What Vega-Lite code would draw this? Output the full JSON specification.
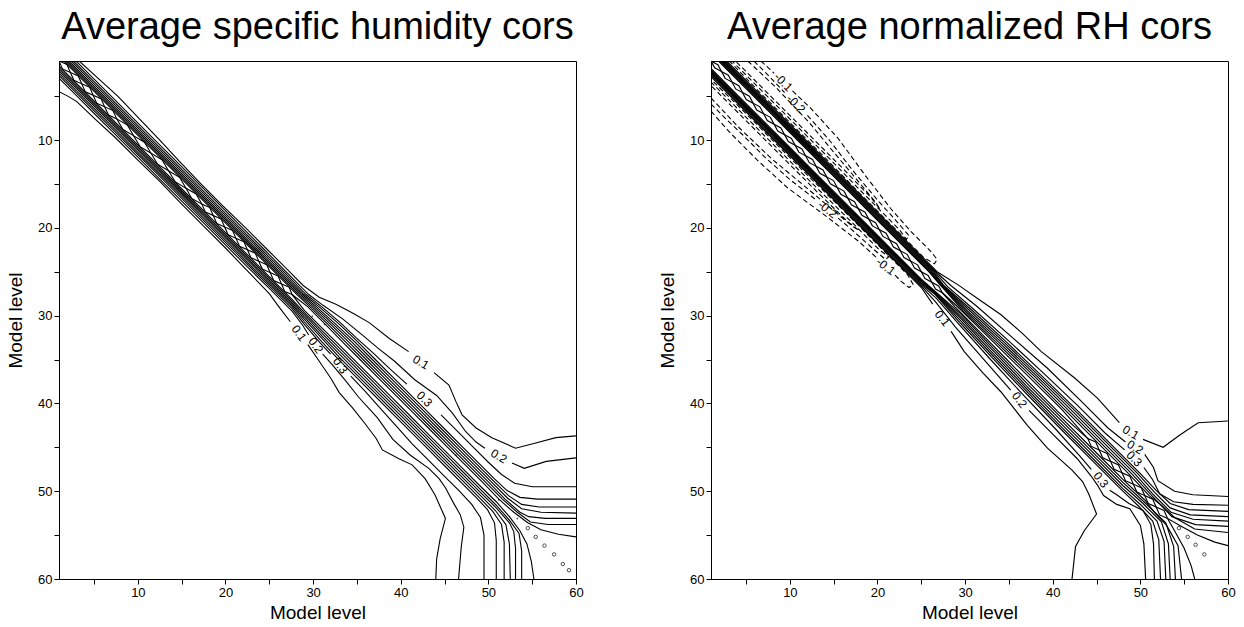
{
"$schema":"https://vega.github.io/schema/vega-lite/v6.json",
"background":"white",
"padding":{"left":6,"top":8,"right":5,"bottom":5},
"spacing":74,
"config":{
 "view":{"stroke":"black","strokeWidth":1},
 "font":"Liberation Sans",
 "title":{"fontSize":38,"fontWeight":"normal","font":"Liberation Sans","color":"black","frame":"group","anchor":"middle","offset":14},
 "axis":{"grid":false,"domainColor":"black","tickColor":"black","labelColor":"black","titleColor":"black","labelFont":"Liberation Sans","titleFont":"Liberation Sans","labelFontSize":13,"titleFontSize":19,"titleFontWeight":"normal","tickSize":5,"labelPadding":2,"domainWidth":1,"tickWidth":1},
 "axisX":{"titlePadding":4},
 "axisY":{"titlePadding":12}
},
"datasets":{
"lineL":[
{"c":"U1a","x":3.3,"y":1},{"c":"U1a","x":5.5,"y":3},{"c":"U1a","x":7.7,"y":5},{"c":"U1a","x":10.1,"y":7.5},{"c":"U1a","x":12.5,"y":10},{"c":"U1a","x":14.8,"y":12.5},{"c":"U1a","x":17.2,"y":15},{"c":"U1a","x":19.7,"y":17.5},{"c":"U1a","x":22.3,"y":20},{"c":"U1a","x":24.8,"y":22.5},{"c":"U1a","x":27.3,"y":25},{"c":"U1a","x":28.9,"y":26.6},{"c":"U1a","x":30.7,"y":27.9},{"c":"U1a","x":32.6,"y":28.7},{"c":"U1a","x":34.5,"y":29.7},{"c":"U1a","x":36.4,"y":30.8},{"c":"U1a","x":38.7,"y":32.6},{"c":"U1a","x":40.9,"y":34.1},
{"c":"U1b","x":43.8,"y":36.5},{"c":"U1b","x":45.5,"y":37.9},{"c":"U1b","x":46.3,"y":39.8},{"c":"U1b","x":47,"y":41.3},{"c":"U1b","x":48.6,"y":42.8},{"c":"U1b","x":50.4,"y":43.9},{"c":"U1b","x":53.1,"y":45.1},{"c":"U1b","x":55.4,"y":44.5},{"c":"U1b","x":57.7,"y":43.9},{"c":"U1b","x":60,"y":43.7},
{"c":"U2a","x":2.95,"y":1},{"c":"U2a","x":4.95,"y":3},{"c":"U2a","x":6.95,"y":5},{"c":"U2a","x":9.45,"y":7.5},{"c":"U2a","x":11.95,"y":10},{"c":"U2a","x":14.45,"y":12.5},{"c":"U2a","x":16.95,"y":15},{"c":"U2a","x":19.45,"y":17.5},{"c":"U2a","x":21.95,"y":20},{"c":"U2a","x":24.45,"y":22.5},{"c":"U2a","x":26.9,"y":25},{"c":"U2a","x":29.5,"y":27.6},{"c":"U2a","x":31.1,"y":28.8},{"c":"U2a","x":33.4,"y":30.4},{"c":"U2a","x":35.6,"y":32.2},{"c":"U2a","x":37.4,"y":33.7},{"c":"U2a","x":39.3,"y":35.2},{"c":"U2a","x":41.6,"y":37.3},{"c":"U2a","x":44.1,"y":39.1},{"c":"U2a","x":45.9,"y":41.1},{"c":"U2a","x":47.4,"y":43.2},{"c":"U2a","x":48.6,"y":44.4},{"c":"U2a","x":49.6,"y":45.1},
{"c":"U2b","x":52.7,"y":46.8},{"c":"U2b","x":54.1,"y":47.4},{"c":"U2b","x":56.6,"y":46.6},{"c":"U2b","x":60,"y":46.2},
{"c":"U3a","x":2.65,"y":1},{"c":"U3a","x":4.65,"y":3},{"c":"U3a","x":6.65,"y":5},{"c":"U3a","x":9.15,"y":7.5},{"c":"U3a","x":11.65,"y":10},{"c":"U3a","x":14.15,"y":12.5},{"c":"U3a","x":16.65,"y":15},{"c":"U3a","x":19.15,"y":17.5},{"c":"U3a","x":21.65,"y":20},{"c":"U3a","x":24.15,"y":22.5},{"c":"U3a","x":26.65,"y":25},{"c":"U3a","x":29.2,"y":27.6},{"c":"U3a","x":31,"y":29},{"c":"U3a","x":33.1,"y":30.8},{"c":"U3a","x":34.9,"y":32.5},{"c":"U3a","x":36.9,"y":34.3},{"c":"U3a","x":38.7,"y":36},{"c":"U3a","x":40.7,"y":37.8},
{"c":"U3b","x":44.6,"y":41.3},{"c":"U3b","x":46.4,"y":43.1},{"c":"U3b","x":48.3,"y":45},{"c":"U3b","x":50,"y":46.7},{"c":"U3b","x":51.5,"y":48.1},{"c":"U3b","x":53,"y":49.1},{"c":"U3b","x":55,"y":49.5},{"c":"U3b","x":60,"y":49.5},
{"c":"U4","x":2.4,"y":1},{"c":"U4","x":4.4,"y":3},{"c":"U4","x":6.4,"y":5},{"c":"U4","x":8.9,"y":7.5},{"c":"U4","x":11.4,"y":10},{"c":"U4","x":13.9,"y":12.5},{"c":"U4","x":16.4,"y":15},{"c":"U4","x":18.9,"y":17.5},{"c":"U4","x":21.4,"y":20},{"c":"U4","x":23.9,"y":22.5},{"c":"U4","x":26.4,"y":25},{"c":"U4","x":28.95,"y":27.6},{"c":"U4","x":30.7,"y":29},{"c":"U4","x":33,"y":31},{"c":"U4","x":35.1,"y":33},{"c":"U4","x":37.1,"y":35},{"c":"U4","x":39.1,"y":37},{"c":"U4","x":41.1,"y":39},{"c":"U4","x":43.1,"y":41},{"c":"U4","x":45.1,"y":43},{"c":"U4","x":47.1,"y":45},{"c":"U4","x":49.1,"y":47},{"c":"U4","x":50.7,"y":48.6},{"c":"U4","x":52.1,"y":49.9},{"c":"U4","x":53.6,"y":50.7},{"c":"U4","x":55.6,"y":50.9},{"c":"U4","x":60,"y":50.9},
{"c":"U5","x":2.15,"y":1},{"c":"U5","x":4.15,"y":3},{"c":"U5","x":6.15,"y":5},{"c":"U5","x":8.65,"y":7.5},{"c":"U5","x":11.15,"y":10},{"c":"U5","x":13.65,"y":12.5},{"c":"U5","x":16.15,"y":15},{"c":"U5","x":18.65,"y":17.5},{"c":"U5","x":21.15,"y":20},{"c":"U5","x":23.65,"y":22.5},{"c":"U5","x":26.15,"y":25},{"c":"U5","x":28.75,"y":27.6},{"c":"U5","x":30.4,"y":29},{"c":"U5","x":32.6,"y":31},{"c":"U5","x":34.75,"y":33},{"c":"U5","x":36.75,"y":35},{"c":"U5","x":38.75,"y":37},{"c":"U5","x":40.75,"y":39},{"c":"U5","x":42.75,"y":41},{"c":"U5","x":44.75,"y":43},{"c":"U5","x":46.75,"y":45},{"c":"U5","x":48.75,"y":47},{"c":"U5","x":50.75,"y":49},{"c":"U5","x":52.3,"y":50.5},{"c":"U5","x":53.8,"y":51.5},{"c":"U5","x":55.8,"y":51.8},{"c":"U5","x":60,"y":51.8},
{"c":"U6","x":1.95,"y":1},{"c":"U6","x":3.95,"y":3},{"c":"U6","x":5.95,"y":5},{"c":"U6","x":8.45,"y":7.5},{"c":"U6","x":10.95,"y":10},{"c":"U6","x":13.45,"y":12.5},{"c":"U6","x":15.95,"y":15},{"c":"U6","x":18.45,"y":17.5},{"c":"U6","x":20.95,"y":20},{"c":"U6","x":23.45,"y":22.5},{"c":"U6","x":25.95,"y":25},{"c":"U6","x":28.55,"y":27.6},{"c":"U6","x":30.15,"y":29},{"c":"U6","x":32.3,"y":31},{"c":"U6","x":34.4,"y":33},{"c":"U6","x":36.4,"y":35},{"c":"U6","x":38.4,"y":37},{"c":"U6","x":40.4,"y":39},{"c":"U6","x":42.4,"y":41},{"c":"U6","x":44.4,"y":43},{"c":"U6","x":46.4,"y":45},{"c":"U6","x":48.4,"y":47},{"c":"U6","x":50.4,"y":49},{"c":"U6","x":52.2,"y":50.8},{"c":"U6","x":53.8,"y":52},{"c":"U6","x":56,"y":52.4},{"c":"U6","x":60,"y":52.5},
{"c":"U7","x":1.75,"y":1},{"c":"U7","x":3.75,"y":3},{"c":"U7","x":5.75,"y":5},{"c":"U7","x":8.25,"y":7.5},{"c":"U7","x":10.75,"y":10},{"c":"U7","x":13.25,"y":12.5},{"c":"U7","x":15.75,"y":15},{"c":"U7","x":18.25,"y":17.5},{"c":"U7","x":20.75,"y":20},{"c":"U7","x":23.25,"y":22.5},{"c":"U7","x":25.75,"y":25},{"c":"U7","x":28.35,"y":27.6},{"c":"U7","x":29.9,"y":29},{"c":"U7","x":32,"y":31},{"c":"U7","x":34.05,"y":33},{"c":"U7","x":36.05,"y":35},{"c":"U7","x":38.05,"y":37},{"c":"U7","x":40.05,"y":39},{"c":"U7","x":42.05,"y":41},{"c":"U7","x":44.05,"y":43},{"c":"U7","x":46.05,"y":45},{"c":"U7","x":48.05,"y":47},{"c":"U7","x":50.05,"y":49},{"c":"U7","x":51.9,"y":50.9},{"c":"U7","x":53.6,"y":52.4},{"c":"U7","x":54.6,"y":52.9},{"c":"U7","x":56.5,"y":53.1},{"c":"U7","x":60,"y":53.1},
{"c":"U8","x":1.55,"y":1},{"c":"U8","x":3.55,"y":3},{"c":"U8","x":5.55,"y":5},{"c":"U8","x":8.05,"y":7.5},{"c":"U8","x":10.55,"y":10},{"c":"U8","x":13.05,"y":12.5},{"c":"U8","x":15.55,"y":15},{"c":"U8","x":18.05,"y":17.5},{"c":"U8","x":20.55,"y":20},{"c":"U8","x":23.05,"y":22.5},{"c":"U8","x":25.55,"y":25},{"c":"U8","x":28.15,"y":27.6},{"c":"U8","x":29.65,"y":29},{"c":"U8","x":31.7,"y":31},{"c":"U8","x":33.7,"y":33},{"c":"U8","x":35.7,"y":35},{"c":"U8","x":37.7,"y":37},{"c":"U8","x":39.7,"y":39},{"c":"U8","x":41.7,"y":41},{"c":"U8","x":43.7,"y":43},{"c":"U8","x":45.7,"y":45},{"c":"U8","x":47.7,"y":47},{"c":"U8","x":49.7,"y":49},{"c":"U8","x":51.6,"y":50.9},{"c":"U8","x":53.3,"y":52.4},{"c":"U8","x":54.8,"y":53.5},{"c":"U8","x":56.8,"y":53.8},{"c":"U8","x":60,"y":53.8},
{"c":"U9","x":1,"y":1},{"c":"U9","x":1.9,"y":1.4},{"c":"U9","x":2.3,"y":2.3},{"c":"U9","x":3.2,"y":2.7},{"c":"U9","x":3.6,"y":3.6},{"c":"U9","x":4.5,"y":4.0},{"c":"U9","x":4.9,"y":4.9},{"c":"U9","x":5.8,"y":5.3},{"c":"U9","x":6.2,"y":6.2},{"c":"U9","x":7.15,"y":6.65},{"c":"U9","x":7.6,"y":7.6},{"c":"U9","x":8.8,"y":8.3},{"c":"U9","x":9.5,"y":9.5},{"c":"U9","x":10.75,"y":10.25},{"c":"U9","x":11.5,"y":11.5},{"c":"U9","x":12.75,"y":12.25},{"c":"U9","x":13.5,"y":13.5},{"c":"U9","x":14.75,"y":14.25},{"c":"U9","x":15.5,"y":15.5},{"c":"U9","x":16.65,"y":16.15},{"c":"U9","x":17.3,"y":17.3},{"c":"U9","x":18.2,"y":17.7},{"c":"U9","x":18.6,"y":18.6},{"c":"U9","x":19.5,"y":19.0},{"c":"U9","x":19.9,"y":19.9},{"c":"U9","x":20.8,"y":20.3},{"c":"U9","x":21.2,"y":21.2},{"c":"U9","x":22.1,"y":21.6},{"c":"U9","x":22.5,"y":22.5},{"c":"U9","x":23.4,"y":22.9},{"c":"U9","x":23.8,"y":23.8},{"c":"U9","x":24.7,"y":24.2},{"c":"U9","x":25.1,"y":25.1},{"c":"U9","x":26.0,"y":25.5},{"c":"U9","x":26.4,"y":26.4},{"c":"U9","x":27.25,"y":26.75},{"c":"U9","x":27.6,"y":27.6},{"c":"U9","x":29.4,"y":29},{"c":"U9","x":31.4,"y":31},{"c":"U9","x":33.35,"y":33},{"c":"U9","x":35.35,"y":35},{"c":"U9","x":37.35,"y":37},{"c":"U9","x":39.35,"y":39},{"c":"U9","x":41.35,"y":41},{"c":"U9","x":43.35,"y":43},{"c":"U9","x":45.35,"y":45},{"c":"U9","x":47.35,"y":47},{"c":"U9","x":49.35,"y":49},{"c":"U9","x":51.2,"y":50.9},{"c":"U9","x":52.9,"y":52.4},{"c":"U9","x":54.5,"y":53.6},{"c":"U9","x":56,"y":54.4},{"c":"U9","x":58,"y":54.9},{"c":"U9","x":60,"y":55.2},
{"c":"L1a","x":1,"y":4.5},{"c":"L1a","x":2,"y":5.0},{"c":"L1a","x":3,"y":5.6},{"c":"L1a","x":5,"y":7.5},{"c":"L1a","x":7.5,"y":9.8},{"c":"L1a","x":10,"y":12.3},{"c":"L1a","x":12.5,"y":14.7},{"c":"L1a","x":15,"y":17.3},{"c":"L1a","x":17.5,"y":19.8},{"c":"L1a","x":20,"y":22.3},{"c":"L1a","x":22.5,"y":24.9},{"c":"L1a","x":25,"y":27.5},{"c":"L1a","x":26.1,"y":29.0},{"c":"L1a","x":27.4,"y":30.7},
{"c":"L1b","x":29.4,"y":33.3},{"c":"L1b","x":30.7,"y":35.2},{"c":"L1b","x":32,"y":37.1},{"c":"L1b","x":33,"y":38.8},{"c":"L1b","x":34.5,"y":40.5},{"c":"L1b","x":36,"y":42.4},{"c":"L1b","x":37.2,"y":44.0},{"c":"L1b","x":37.9,"y":45.3},{"c":"L1b","x":39.8,"y":46.3},{"c":"L1b","x":41.3,"y":47.0},{"c":"L1b","x":42.8,"y":48.6},{"c":"L1b","x":43.9,"y":50.4},{"c":"L1b","x":45.1,"y":53.1},{"c":"L1b","x":44.5,"y":55.4},{"c":"L1b","x":44.1,"y":57.7},{"c":"L1b","x":44,"y":60},
{"c":"L2a","x":1,"y":2.95},{"c":"L2a","x":3,"y":4.95},{"c":"L2a","x":5,"y":6.95},{"c":"L2a","x":7.5,"y":9.45},{"c":"L2a","x":10,"y":11.95},{"c":"L2a","x":12.5,"y":14.45},{"c":"L2a","x":15,"y":16.95},{"c":"L2a","x":17.5,"y":19.45},{"c":"L2a","x":20,"y":21.95},{"c":"L2a","x":22.5,"y":24.45},{"c":"L2a","x":25,"y":26.9},{"c":"L2a","x":27.6,"y":29.5},{"c":"L2a","x":28.8,"y":31.1},{"c":"L2a","x":29.5,"y":32.2},
{"c":"L2b","x":31.1,"y":34.4},{"c":"L2b","x":32.2,"y":35.6},{"c":"L2b","x":33.7,"y":37.4},{"c":"L2b","x":35.2,"y":39.3},{"c":"L2b","x":37.3,"y":41.6},{"c":"L2b","x":39.1,"y":44.1},{"c":"L2b","x":41.1,"y":45.9},{"c":"L2b","x":43.2,"y":47.4},{"c":"L2b","x":44.4,"y":48.6},{"c":"L2b","x":45.1,"y":49.6},{"c":"L2b","x":46,"y":51.3},{"c":"L2b","x":46.8,"y":52.7},{"c":"L2b","x":47.2,"y":54.1},{"c":"L2b","x":46.9,"y":56.4},{"c":"L2b","x":46.6,"y":60},
{"c":"L3a","x":1,"y":2.65},{"c":"L3a","x":3,"y":4.65},{"c":"L3a","x":5,"y":6.65},{"c":"L3a","x":7.5,"y":9.15},{"c":"L3a","x":10,"y":11.65},{"c":"L3a","x":12.5,"y":14.15},{"c":"L3a","x":15,"y":16.65},{"c":"L3a","x":17.5,"y":19.15},{"c":"L3a","x":20,"y":21.65},{"c":"L3a","x":22.5,"y":24.15},{"c":"L3a","x":25,"y":26.65},{"c":"L3a","x":27.6,"y":29.2},{"c":"L3a","x":29,"y":31},{"c":"L3a","x":30.8,"y":33.1},{"c":"L3a","x":32,"y":34.4},
{"c":"L3b","x":34.3,"y":36.9},{"c":"L3b","x":36,"y":38.7},{"c":"L3b","x":37.8,"y":40.7},{"c":"L3b","x":39.6,"y":42.7},{"c":"L3b","x":41.3,"y":44.6},{"c":"L3b","x":43.1,"y":46.4},{"c":"L3b","x":45,"y":48.3},{"c":"L3b","x":46.7,"y":50},{"c":"L3b","x":48.1,"y":51.5},{"c":"L3b","x":49.1,"y":53},{"c":"L3b","x":49.5,"y":55},{"c":"L3b","x":49.5,"y":60},
{"c":"L4","x":1,"y":2.4},{"c":"L4","x":3,"y":4.4},{"c":"L4","x":5,"y":6.4},{"c":"L4","x":7.5,"y":8.9},{"c":"L4","x":10,"y":11.4},{"c":"L4","x":12.5,"y":13.9},{"c":"L4","x":15,"y":16.4},{"c":"L4","x":17.5,"y":18.9},{"c":"L4","x":20,"y":21.4},{"c":"L4","x":22.5,"y":23.9},{"c":"L4","x":25,"y":26.4},{"c":"L4","x":27.6,"y":28.95},{"c":"L4","x":29,"y":30.7},{"c":"L4","x":31,"y":33},{"c":"L4","x":33,"y":35.1},{"c":"L4","x":35,"y":37.1},{"c":"L4","x":37,"y":39.1},{"c":"L4","x":39,"y":41.1},{"c":"L4","x":41,"y":43.1},{"c":"L4","x":43,"y":45.1},{"c":"L4","x":45,"y":47.1},{"c":"L4","x":47,"y":49.1},{"c":"L4","x":48.6,"y":50.7},{"c":"L4","x":49.9,"y":52.1},{"c":"L4","x":50.7,"y":53.6},{"c":"L4","x":50.9,"y":55.6},{"c":"L4","x":50.9,"y":60},
{"c":"L5","x":1,"y":2.15},{"c":"L5","x":3,"y":4.15},{"c":"L5","x":5,"y":6.15},{"c":"L5","x":7.5,"y":8.65},{"c":"L5","x":10,"y":11.15},{"c":"L5","x":12.5,"y":13.65},{"c":"L5","x":15,"y":16.15},{"c":"L5","x":17.5,"y":18.65},{"c":"L5","x":20,"y":21.15},{"c":"L5","x":22.5,"y":23.65},{"c":"L5","x":25,"y":26.15},{"c":"L5","x":27.6,"y":28.75},{"c":"L5","x":29,"y":30.4},{"c":"L5","x":31,"y":32.6},{"c":"L5","x":33,"y":34.75},{"c":"L5","x":35,"y":36.75},{"c":"L5","x":37,"y":38.75},{"c":"L5","x":39,"y":40.75},{"c":"L5","x":41,"y":42.75},{"c":"L5","x":43,"y":44.75},{"c":"L5","x":45,"y":46.75},{"c":"L5","x":47,"y":48.75},{"c":"L5","x":49,"y":50.75},{"c":"L5","x":50.5,"y":52.3},{"c":"L5","x":51.5,"y":53.8},{"c":"L5","x":51.8,"y":55.8},{"c":"L5","x":51.8,"y":60},
{"c":"L6","x":1,"y":1.95},{"c":"L6","x":3,"y":3.95},{"c":"L6","x":5,"y":5.95},{"c":"L6","x":7.5,"y":8.45},{"c":"L6","x":10,"y":10.95},{"c":"L6","x":12.5,"y":13.45},{"c":"L6","x":15,"y":15.95},{"c":"L6","x":17.5,"y":18.45},{"c":"L6","x":20,"y":20.95},{"c":"L6","x":22.5,"y":23.45},{"c":"L6","x":25,"y":25.95},{"c":"L6","x":27.6,"y":28.55},{"c":"L6","x":29,"y":30.15},{"c":"L6","x":31,"y":32.3},{"c":"L6","x":33,"y":34.4},{"c":"L6","x":35,"y":36.4},{"c":"L6","x":37,"y":38.4},{"c":"L6","x":39,"y":40.4},{"c":"L6","x":41,"y":42.4},{"c":"L6","x":43,"y":44.4},{"c":"L6","x":45,"y":46.4},{"c":"L6","x":47,"y":48.4},{"c":"L6","x":49,"y":50.4},{"c":"L6","x":50.8,"y":52.2},{"c":"L6","x":52,"y":53.8},{"c":"L6","x":52.4,"y":56},{"c":"L6","x":52.5,"y":60},
{"c":"L7","x":1,"y":1.75},{"c":"L7","x":3,"y":3.75},{"c":"L7","x":5,"y":5.75},{"c":"L7","x":7.5,"y":8.25},{"c":"L7","x":10,"y":10.75},{"c":"L7","x":12.5,"y":13.25},{"c":"L7","x":15,"y":15.75},{"c":"L7","x":17.5,"y":18.25},{"c":"L7","x":20,"y":20.75},{"c":"L7","x":22.5,"y":23.25},{"c":"L7","x":25,"y":25.75},{"c":"L7","x":27.6,"y":28.35},{"c":"L7","x":29,"y":29.9},{"c":"L7","x":31,"y":32},{"c":"L7","x":33,"y":34.05},{"c":"L7","x":35,"y":36.05},{"c":"L7","x":37,"y":38.05},{"c":"L7","x":39,"y":40.05},{"c":"L7","x":41,"y":42.05},{"c":"L7","x":43,"y":44.05},{"c":"L7","x":45,"y":46.05},{"c":"L7","x":47,"y":48.05},{"c":"L7","x":49,"y":50.05},{"c":"L7","x":50.9,"y":51.9},{"c":"L7","x":52.4,"y":53.6},{"c":"L7","x":52.9,"y":54.6},{"c":"L7","x":53.1,"y":56.5},{"c":"L7","x":53.1,"y":60},
{"c":"L8","x":1,"y":1.55},{"c":"L8","x":3,"y":3.55},{"c":"L8","x":5,"y":5.55},{"c":"L8","x":7.5,"y":8.05},{"c":"L8","x":10,"y":10.55},{"c":"L8","x":12.5,"y":13.05},{"c":"L8","x":15,"y":15.55},{"c":"L8","x":17.5,"y":18.05},{"c":"L8","x":20,"y":20.55},{"c":"L8","x":22.5,"y":23.05},{"c":"L8","x":25,"y":25.55},{"c":"L8","x":27.6,"y":28.15},{"c":"L8","x":29,"y":29.65},{"c":"L8","x":31,"y":31.7},{"c":"L8","x":33,"y":33.7},{"c":"L8","x":35,"y":35.7},{"c":"L8","x":37,"y":37.7},{"c":"L8","x":39,"y":39.7},{"c":"L8","x":41,"y":41.7},{"c":"L8","x":43,"y":43.7},{"c":"L8","x":45,"y":45.7},{"c":"L8","x":47,"y":47.7},{"c":"L8","x":49,"y":49.7},{"c":"L8","x":50.9,"y":51.6},{"c":"L8","x":52.4,"y":53.3},{"c":"L8","x":53.5,"y":54.8},{"c":"L8","x":53.8,"y":56.8},{"c":"L8","x":53.8,"y":60},
{"c":"L9","x":1,"y":1},{"c":"L9","x":1.4,"y":1.9},{"c":"L9","x":2.3,"y":2.3},{"c":"L9","x":2.7,"y":3.2},{"c":"L9","x":3.6,"y":3.6},{"c":"L9","x":4.0,"y":4.5},{"c":"L9","x":4.9,"y":4.9},{"c":"L9","x":5.3,"y":5.8},{"c":"L9","x":6.2,"y":6.2},{"c":"L9","x":6.65,"y":7.15},{"c":"L9","x":7.6,"y":7.6},{"c":"L9","x":8.3,"y":8.8},{"c":"L9","x":9.5,"y":9.5},{"c":"L9","x":10.25,"y":10.75},{"c":"L9","x":11.5,"y":11.5},{"c":"L9","x":12.25,"y":12.75},{"c":"L9","x":13.5,"y":13.5},{"c":"L9","x":14.25,"y":14.75},{"c":"L9","x":15.5,"y":15.5},{"c":"L9","x":16.15,"y":16.65},{"c":"L9","x":17.3,"y":17.3},{"c":"L9","x":17.7,"y":18.2},{"c":"L9","x":18.6,"y":18.6},{"c":"L9","x":19.0,"y":19.5},{"c":"L9","x":19.9,"y":19.9},{"c":"L9","x":20.3,"y":20.8},{"c":"L9","x":21.2,"y":21.2},{"c":"L9","x":21.6,"y":22.1},{"c":"L9","x":22.5,"y":22.5},{"c":"L9","x":22.9,"y":23.4},{"c":"L9","x":23.8,"y":23.8},{"c":"L9","x":24.2,"y":24.7},{"c":"L9","x":25.1,"y":25.1},{"c":"L9","x":25.5,"y":26.0},{"c":"L9","x":26.4,"y":26.4},{"c":"L9","x":26.75,"y":27.25},{"c":"L9","x":27.6,"y":27.6},{"c":"L9","x":29,"y":29.4},{"c":"L9","x":31,"y":31.4},{"c":"L9","x":33,"y":33.35},{"c":"L9","x":35,"y":35.35},{"c":"L9","x":37,"y":37.35},{"c":"L9","x":39,"y":39.35},{"c":"L9","x":41,"y":41.35},{"c":"L9","x":43,"y":43.35},{"c":"L9","x":45,"y":45.35},{"c":"L9","x":47,"y":47.35},{"c":"L9","x":49,"y":49.35},{"c":"L9","x":50.9,"y":51.2},{"c":"L9","x":52.4,"y":52.9},{"c":"L9","x":53.6,"y":54.5},{"c":"L9","x":54.4,"y":56},{"c":"L9","x":54.9,"y":58},{"c":"L9","x":55.2,"y":60}
],
"dotL":[{"x":29.9,"y":30.1},{"x":31.3,"y":31.0},{"x":46.3,"y":45.9},{"x":51.2,"y":51.0},{"x":53.3,"y":53.1}],
"circL":[{"x":54.5,"y":54.2},{"x":55.4,"y":55.2},{"x":56.4,"y":56.2},{"x":57.5,"y":57.2},{"x":58.5,"y":58.3},{"x":59.2,"y":59.0}],
"labL30":[{"t":"0.1","x":42.3,"y":35.3},{"t":"0.2","x":51.2,"y":46.0}],
"labL45":[{"t":"0.3","x":42.7,"y":39.5}],
"labL55":[{"t":"0.1","x":28.4,"y":32.0},{"t":"0.2","x":30.3,"y":33.4},{"t":"0.3","x":33.1,"y":35.7}],
"lineR":[
{"c":"U1a","x":2.8,"y":1},{"c":"U1a","x":5.8,"y":4},{"c":"U1a","x":8.8,"y":7},{"c":"U1a","x":11.8,"y":10},{"c":"U1a","x":14.8,"y":13},{"c":"U1a","x":17.8,"y":16},{"c":"U1a","x":20.8,"y":19},{"c":"U1a","x":23.8,"y":22},{"c":"U1a","x":26.8,"y":25},{"c":"U1a","x":29.2,"y":26.5},{"c":"U1a","x":31.5,"y":28.1},{"c":"U1a","x":34.1,"y":29.9},{"c":"U1a","x":36.5,"y":32},{"c":"U1a","x":38.7,"y":34.1},{"c":"U1a","x":42.5,"y":37.1},{"c":"U1a","x":45.1,"y":39.4},{"c":"U1a","x":47.6,"y":42.2},
{"c":"U1b","x":50.3,"y":44.1},{"c":"U1b","x":52.6,"y":45.0},{"c":"U1b","x":54.5,"y":43.6},{"c":"U1b","x":56.6,"y":42.2},{"c":"U1b","x":60,"y":42.0},
{"c":"U2a","x":2.65,"y":1},{"c":"U2a","x":5.65,"y":4},{"c":"U2a","x":8.65,"y":7},{"c":"U2a","x":11.65,"y":10},{"c":"U2a","x":14.65,"y":13},{"c":"U2a","x":17.65,"y":16},{"c":"U2a","x":20.65,"y":19},{"c":"U2a","x":23.65,"y":22},{"c":"U2a","x":26.65,"y":25},{"c":"U2a","x":28.4,"y":26.6},{"c":"U2a","x":31.3,"y":28.9},{"c":"U2a","x":35.4,"y":32.5},{"c":"U2a","x":39.4,"y":36.0},{"c":"U2a","x":43.5,"y":40},{"c":"U2a","x":46.3,"y":42.8},{"c":"U2a","x":48.3,"y":44.4},
{"c":"U2b","x":50.5,"y":45.8},{"c":"U2b","x":51.5,"y":47.3},{"c":"U2b","x":52.0,"y":48.8},{"c":"U2b","x":53.9,"y":50},{"c":"U2b","x":56,"y":50.4},{"c":"U2b","x":60,"y":50.6},
{"c":"U3a","x":2.5,"y":1},{"c":"U3a","x":5.5,"y":4},{"c":"U3a","x":8.5,"y":7},{"c":"U3a","x":11.5,"y":10},{"c":"U3a","x":14.5,"y":13},{"c":"U3a","x":17.5,"y":16},{"c":"U3a","x":20.5,"y":19},{"c":"U3a","x":23.5,"y":22},{"c":"U3a","x":26.5,"y":25},{"c":"U3a","x":28,"y":26.7},{"c":"U3a","x":31,"y":29.3},{"c":"U3a","x":35,"y":32.9},{"c":"U3a","x":39,"y":36.6},{"c":"U3a","x":43,"y":40.4},{"c":"U3a","x":46,"y":43.4},{"c":"U3a","x":48.2,"y":45.3},
{"c":"U3b","x":50.4,"y":47.3},{"c":"U3b","x":51.4,"y":48.7},{"c":"U3b","x":52.2,"y":50.3},{"c":"U3b","x":53.8,"y":51.2},{"c":"U3b","x":56,"y":51.5},{"c":"U3b","x":60,"y":51.6},
{"c":"U4","x":2.37,"y":1},{"c":"U4","x":5.37,"y":4},{"c":"U4","x":8.37,"y":7},{"c":"U4","x":11.37,"y":10},{"c":"U4","x":14.37,"y":13},{"c":"U4","x":17.37,"y":16},{"c":"U4","x":20.37,"y":19},{"c":"U4","x":23.37,"y":22},{"c":"U4","x":26.37,"y":25},{"c":"U4","x":27.6,"y":26.6},{"c":"U4","x":30.9,"y":29.5},{"c":"U4","x":34.7,"y":33},{"c":"U4","x":38.9,"y":37},{"c":"U4","x":43,"y":41},{"c":"U4","x":47,"y":45},{"c":"U4","x":50,"y":48},{"c":"U4","x":51.8,"y":49.9},{"c":"U4","x":53.4,"y":51.4},{"c":"U4","x":55.5,"y":52.1},{"c":"U4","x":60,"y":52.3},
{"c":"U5","x":2.24,"y":1},{"c":"U5","x":5.24,"y":4},{"c":"U5","x":8.24,"y":7},{"c":"U5","x":11.24,"y":10},{"c":"U5","x":14.24,"y":13},{"c":"U5","x":17.24,"y":16},{"c":"U5","x":20.24,"y":19},{"c":"U5","x":23.24,"y":22},{"c":"U5","x":26.24,"y":25},{"c":"U5","x":27.4,"y":26.5},{"c":"U5","x":30.6,"y":29.5},{"c":"U5","x":34.4,"y":33},{"c":"U5","x":38.6,"y":37},{"c":"U5","x":42.7,"y":41},{"c":"U5","x":46.7,"y":45},{"c":"U5","x":49.7,"y":48},{"c":"U5","x":51.6,"y":50.1},{"c":"U5","x":53.4,"y":51.9},{"c":"U5","x":55.7,"y":52.7},{"c":"U5","x":60,"y":52.9},
{"c":"U6","x":2.11,"y":1},{"c":"U6","x":5.11,"y":4},{"c":"U6","x":8.11,"y":7},{"c":"U6","x":11.11,"y":10},{"c":"U6","x":14.11,"y":13},{"c":"U6","x":17.11,"y":16},{"c":"U6","x":20.11,"y":19},{"c":"U6","x":23.11,"y":22},{"c":"U6","x":26.11,"y":25},{"c":"U6","x":27.2,"y":26.4},{"c":"U6","x":30.3,"y":29.5},{"c":"U6","x":34.1,"y":33},{"c":"U6","x":38.3,"y":37},{"c":"U6","x":42.35,"y":41},{"c":"U6","x":46.35,"y":45},{"c":"U6","x":49.35,"y":48},{"c":"U6","x":51.4,"y":50.3},{"c":"U6","x":53.5,"y":52.4},{"c":"U6","x":56,"y":53.2},{"c":"U6","x":60,"y":53.4},
{"c":"U7","x":1.98,"y":1},{"c":"U7","x":4.98,"y":4},{"c":"U7","x":7.98,"y":7},{"c":"U7","x":10.98,"y":10},{"c":"U7","x":13.98,"y":13},{"c":"U7","x":16.98,"y":16},{"c":"U7","x":19.98,"y":19},{"c":"U7","x":22.98,"y":22},{"c":"U7","x":25.98,"y":25},{"c":"U7","x":27.05,"y":26.3},{"c":"U7","x":30.05,"y":29.5},{"c":"U7","x":33.8,"y":33},{"c":"U7","x":38,"y":37},{"c":"U7","x":42,"y":41},{"c":"U7","x":46,"y":45},{"c":"U7","x":49,"y":48},{"c":"U7","x":51.2,"y":50.4},{"c":"U7","x":53.6,"y":52.9},{"c":"U7","x":56.3,"y":53.8},{"c":"U7","x":60,"y":54.0},
{"c":"U8","x":1.85,"y":1},{"c":"U8","x":4.85,"y":4},{"c":"U8","x":7.85,"y":7},{"c":"U8","x":10.85,"y":10},{"c":"U8","x":13.85,"y":13},{"c":"U8","x":16.85,"y":16},{"c":"U8","x":19.85,"y":19},{"c":"U8","x":22.85,"y":22},{"c":"U8","x":25.85,"y":25},{"c":"U8","x":26.9,"y":26.2},{"c":"U8","x":29.8,"y":29.5},{"c":"U8","x":33.5,"y":33},{"c":"U8","x":37.65,"y":37},{"c":"U8","x":41.65,"y":41},{"c":"U8","x":45.65,"y":45},{"c":"U8","x":48.65,"y":48},{"c":"U8","x":51,"y":50.5},{"c":"U8","x":52.4,"y":51.6},{"c":"U8","x":53.9,"y":53.0},{"c":"U8","x":56.2,"y":54.3},{"c":"U8","x":60,"y":54.7},
{"c":"U9","x":1,"y":1},{"c":"U9","x":1.78,"y":1.42},{"c":"U9","x":2.2,"y":2.2},{"c":"U9","x":2.98,"y":2.62},{"c":"U9","x":3.4,"y":3.4},{"c":"U9","x":4.18,"y":3.82},{"c":"U9","x":4.6,"y":4.6},{"c":"U9","x":5.38,"y":5.02},{"c":"U9","x":5.8,"y":5.8},{"c":"U9","x":6.58,"y":6.22},{"c":"U9","x":7,"y":7},{"c":"U9","x":7.78,"y":7.42},{"c":"U9","x":8.2,"y":8.2},{"c":"U9","x":8.98,"y":8.62},{"c":"U9","x":9.4,"y":9.4},{"c":"U9","x":10.18,"y":9.82},{"c":"U9","x":10.6,"y":10.6},{"c":"U9","x":11.38,"y":11.02},{"c":"U9","x":11.8,"y":11.8},{"c":"U9","x":12.58,"y":12.22},{"c":"U9","x":13,"y":13},{"c":"U9","x":13.78,"y":13.42},{"c":"U9","x":14.2,"y":14.2},{"c":"U9","x":14.98,"y":14.62},{"c":"U9","x":15.4,"y":15.4},{"c":"U9","x":16.18,"y":15.82},{"c":"U9","x":16.6,"y":16.6},{"c":"U9","x":17.38,"y":17.02},{"c":"U9","x":17.8,"y":17.8},{"c":"U9","x":18.58,"y":18.22},{"c":"U9","x":19,"y":19},{"c":"U9","x":19.78,"y":19.42},{"c":"U9","x":20.2,"y":20.2},{"c":"U9","x":20.98,"y":20.62},{"c":"U9","x":21.4,"y":21.4},{"c":"U9","x":22.18,"y":21.82},{"c":"U9","x":22.6,"y":22.6},{"c":"U9","x":23.38,"y":23.02},{"c":"U9","x":23.8,"y":23.8},{"c":"U9","x":24.58,"y":24.22},{"c":"U9","x":25,"y":25},{"c":"U9","x":25.78,"y":25.42},{"c":"U9","x":26.2,"y":26.2},{"c":"U9","x":26.98,"y":26.62},{"c":"U9","x":27.4,"y":27.4},{"c":"U9","x":29,"y":28.85},{"c":"U9","x":32,"y":31.8},{"c":"U9","x":35,"y":34.75},{"c":"U9","x":38,"y":37.7},{"c":"U9","x":41,"y":40.65},{"c":"U9","x":44,"y":44},{"c":"U9","x":44.9,"y":44.4},{"c":"U9","x":45.3,"y":45.3},{"c":"U9","x":46.2,"y":45.7},{"c":"U9","x":46.6,"y":46.6},{"c":"U9","x":47.5,"y":47.0},{"c":"U9","x":47.9,"y":47.9},{"c":"U9","x":48.8,"y":48.3},{"c":"U9","x":49.2,"y":49.2},{"c":"U9","x":50.1,"y":49.6},{"c":"U9","x":50.5,"y":50.5},{"c":"U9","x":51.4,"y":50.9},{"c":"U9","x":51.8,"y":51.8},{"c":"U9","x":52.7,"y":52.2},{"c":"U9","x":53.1,"y":53.1},{"c":"U9","x":54.5,"y":53.9},{"c":"U9","x":56.5,"y":55.0},{"c":"U9","x":58.5,"y":55.8},{"c":"U9","x":60,"y":56.2},
{"c":"L1a","x":1,"y":2.8},{"c":"L1a","x":4,"y":5.8},{"c":"L1a","x":7,"y":8.8},{"c":"L1a","x":10,"y":11.8},{"c":"L1a","x":13,"y":14.8},{"c":"L1a","x":16,"y":17.8},{"c":"L1a","x":19,"y":20.8},{"c":"L1a","x":22,"y":23.8},{"c":"L1a","x":25,"y":26.8},{"c":"L1a","x":26.3,"y":28.7},
{"c":"L1b","x":28.4,"y":31.8},{"c":"L1b","x":29.9,"y":34.1},{"c":"L1b","x":32,"y":36.5},{"c":"L1b","x":34.1,"y":38.7},{"c":"L1b","x":37.1,"y":42.5},{"c":"L1b","x":39.4,"y":45.1},{"c":"L1b","x":42.2,"y":47.6},{"c":"L1b","x":43.4,"y":48.9},{"c":"L1b","x":44.1,"y":50.3},{"c":"L1b","x":45,"y":52.6},{"c":"L1b","x":43.6,"y":54.5},{"c":"L1b","x":42.6,"y":56.3},{"c":"L1b","x":42.2,"y":60},
{"c":"L2a","x":1,"y":2.65},{"c":"L2a","x":4,"y":5.65},{"c":"L2a","x":7,"y":8.65},{"c":"L2a","x":10,"y":11.65},{"c":"L2a","x":13,"y":14.65},{"c":"L2a","x":16,"y":17.65},{"c":"L2a","x":19,"y":20.65},{"c":"L2a","x":22,"y":23.65},{"c":"L2a","x":25,"y":26.65},{"c":"L2a","x":26.6,"y":28.4},{"c":"L2a","x":28.9,"y":31.3},{"c":"L2a","x":32.5,"y":35.4},{"c":"L2a","x":35.2,"y":38.5},
{"c":"L2b","x":37.3,"y":40.8},{"c":"L2b","x":40,"y":43.5},{"c":"L2b","x":42.8,"y":46.3},{"c":"L2b","x":44.4,"y":48.3},{"c":"L2b","x":45.1,"y":49.3},{"c":"L2b","x":45.8,"y":50.5},{"c":"L2b","x":47.3,"y":51.5},{"c":"L2b","x":48.8,"y":52.0},{"c":"L2b","x":50,"y":53.9},{"c":"L2b","x":50.4,"y":56},{"c":"L2b","x":50.6,"y":60},
{"c":"L3a","x":1,"y":2.5},{"c":"L3a","x":4,"y":5.5},{"c":"L3a","x":7,"y":8.5},{"c":"L3a","x":10,"y":11.5},{"c":"L3a","x":13,"y":14.5},{"c":"L3a","x":16,"y":17.5},{"c":"L3a","x":19,"y":20.5},{"c":"L3a","x":22,"y":23.5},{"c":"L3a","x":25,"y":26.5},{"c":"L3a","x":26.7,"y":28},{"c":"L3a","x":29.3,"y":31},{"c":"L3a","x":32.9,"y":35},{"c":"L3a","x":36.6,"y":39},{"c":"L3a","x":40.4,"y":43},{"c":"L3a","x":43,"y":45.9},{"c":"L3a","x":44.4,"y":47.5},
{"c":"L3b","x":46.5,"y":49.9},{"c":"L3b","x":47.3,"y":50.4},{"c":"L3b","x":48.7,"y":51.4},{"c":"L3b","x":50.3,"y":52.2},{"c":"L3b","x":51.2,"y":53.8},{"c":"L3b","x":51.5,"y":56},{"c":"L3b","x":51.6,"y":60},
{"c":"L4","x":1,"y":2.37},{"c":"L4","x":4,"y":5.37},{"c":"L4","x":7,"y":8.37},{"c":"L4","x":10,"y":11.37},{"c":"L4","x":13,"y":14.37},{"c":"L4","x":16,"y":17.37},{"c":"L4","x":19,"y":20.37},{"c":"L4","x":22,"y":23.37},{"c":"L4","x":25,"y":26.37},{"c":"L4","x":26.6,"y":27.6},{"c":"L4","x":29.5,"y":30.9},{"c":"L4","x":33,"y":34.7},{"c":"L4","x":37,"y":38.9},{"c":"L4","x":41,"y":43},{"c":"L4","x":45,"y":47},{"c":"L4","x":48,"y":50},{"c":"L4","x":49.9,"y":51.8},{"c":"L4","x":51.4,"y":53.4},{"c":"L4","x":52.1,"y":55.5},{"c":"L4","x":52.3,"y":60},
{"c":"L5","x":1,"y":2.24},{"c":"L5","x":4,"y":5.24},{"c":"L5","x":7,"y":8.24},{"c":"L5","x":10,"y":11.24},{"c":"L5","x":13,"y":14.24},{"c":"L5","x":16,"y":17.24},{"c":"L5","x":19,"y":20.24},{"c":"L5","x":22,"y":23.24},{"c":"L5","x":25,"y":26.24},{"c":"L5","x":26.5,"y":27.4},{"c":"L5","x":29.5,"y":30.6},{"c":"L5","x":33,"y":34.4},{"c":"L5","x":37,"y":38.6},{"c":"L5","x":41,"y":42.7},{"c":"L5","x":45,"y":46.7},{"c":"L5","x":48,"y":49.7},{"c":"L5","x":50.1,"y":51.6},{"c":"L5","x":51.9,"y":53.4},{"c":"L5","x":52.7,"y":55.7},{"c":"L5","x":52.9,"y":60},
{"c":"L6","x":1,"y":2.11},{"c":"L6","x":4,"y":5.11},{"c":"L6","x":7,"y":8.11},{"c":"L6","x":10,"y":11.11},{"c":"L6","x":13,"y":14.11},{"c":"L6","x":16,"y":17.11},{"c":"L6","x":19,"y":20.11},{"c":"L6","x":22,"y":23.11},{"c":"L6","x":25,"y":26.11},{"c":"L6","x":26.4,"y":27.2},{"c":"L6","x":29.5,"y":30.3},{"c":"L6","x":33,"y":34.1},{"c":"L6","x":37,"y":38.3},{"c":"L6","x":41,"y":42.35},{"c":"L6","x":45,"y":46.35},{"c":"L6","x":48,"y":49.35},{"c":"L6","x":50.3,"y":51.4},{"c":"L6","x":52.4,"y":53.5},{"c":"L6","x":53.2,"y":56},{"c":"L6","x":53.4,"y":60},
{"c":"L7","x":1,"y":1.98},{"c":"L7","x":4,"y":4.98},{"c":"L7","x":7,"y":7.98},{"c":"L7","x":10,"y":10.98},{"c":"L7","x":13,"y":13.98},{"c":"L7","x":16,"y":16.98},{"c":"L7","x":19,"y":19.98},{"c":"L7","x":22,"y":22.98},{"c":"L7","x":25,"y":25.98},{"c":"L7","x":26.3,"y":27.05},{"c":"L7","x":29.5,"y":30.05},{"c":"L7","x":33,"y":33.8},{"c":"L7","x":37,"y":38},{"c":"L7","x":41,"y":42},{"c":"L7","x":45,"y":46},{"c":"L7","x":48,"y":49},{"c":"L7","x":50.4,"y":51.2},{"c":"L7","x":52.9,"y":53.6},{"c":"L7","x":53.8,"y":56.3},{"c":"L7","x":54.0,"y":60},
{"c":"L8","x":1,"y":1.85},{"c":"L8","x":4,"y":4.85},{"c":"L8","x":7,"y":7.85},{"c":"L8","x":10,"y":10.85},{"c":"L8","x":13,"y":13.85},{"c":"L8","x":16,"y":16.85},{"c":"L8","x":19,"y":19.85},{"c":"L8","x":22,"y":22.85},{"c":"L8","x":25,"y":25.85},{"c":"L8","x":26.2,"y":26.9},{"c":"L8","x":29.5,"y":29.8},{"c":"L8","x":33,"y":33.5},{"c":"L8","x":37,"y":37.65},{"c":"L8","x":41,"y":41.65},{"c":"L8","x":45,"y":45.65},{"c":"L8","x":48,"y":48.65},{"c":"L8","x":50.5,"y":51},{"c":"L8","x":51.6,"y":52.4},{"c":"L8","x":53,"y":53.9},{"c":"L8","x":54.3,"y":56.2},{"c":"L8","x":54.7,"y":60},
{"c":"L9","x":1,"y":1},{"c":"L9","x":1.42,"y":1.78},{"c":"L9","x":2.2,"y":2.2},{"c":"L9","x":2.62,"y":2.98},{"c":"L9","x":3.4,"y":3.4},{"c":"L9","x":3.82,"y":4.18},{"c":"L9","x":4.6,"y":4.6},{"c":"L9","x":5.02,"y":5.38},{"c":"L9","x":5.8,"y":5.8},{"c":"L9","x":6.22,"y":6.58},{"c":"L9","x":7,"y":7},{"c":"L9","x":7.42,"y":7.78},{"c":"L9","x":8.2,"y":8.2},{"c":"L9","x":8.62,"y":8.98},{"c":"L9","x":9.4,"y":9.4},{"c":"L9","x":9.82,"y":10.18},{"c":"L9","x":10.6,"y":10.6},{"c":"L9","x":11.02,"y":11.38},{"c":"L9","x":11.8,"y":11.8},{"c":"L9","x":12.22,"y":12.58},{"c":"L9","x":13,"y":13},{"c":"L9","x":13.42,"y":13.78},{"c":"L9","x":14.2,"y":14.2},{"c":"L9","x":14.62,"y":14.98},{"c":"L9","x":15.4,"y":15.4},{"c":"L9","x":15.82,"y":16.18},{"c":"L9","x":16.6,"y":16.6},{"c":"L9","x":17.02,"y":17.38},{"c":"L9","x":17.8,"y":17.8},{"c":"L9","x":18.22,"y":18.58},{"c":"L9","x":19,"y":19},{"c":"L9","x":19.42,"y":19.78},{"c":"L9","x":20.2,"y":20.2},{"c":"L9","x":20.62,"y":20.98},{"c":"L9","x":21.4,"y":21.4},{"c":"L9","x":21.82,"y":22.18},{"c":"L9","x":22.6,"y":22.6},{"c":"L9","x":23.02,"y":23.38},{"c":"L9","x":23.8,"y":23.8},{"c":"L9","x":24.22,"y":24.58},{"c":"L9","x":25,"y":25},{"c":"L9","x":25.42,"y":25.78},{"c":"L9","x":26.2,"y":26.2},{"c":"L9","x":26.62,"y":26.98},{"c":"L9","x":27.4,"y":27.4},{"c":"L9","x":28.85,"y":29},{"c":"L9","x":31.8,"y":32},{"c":"L9","x":34.75,"y":35},{"c":"L9","x":37.7,"y":38},{"c":"L9","x":40.65,"y":41},{"c":"L9","x":44,"y":44},{"c":"L9","x":44.4,"y":44.9},{"c":"L9","x":45.3,"y":45.3},{"c":"L9","x":45.7,"y":46.2},{"c":"L9","x":46.6,"y":46.6},{"c":"L9","x":47.0,"y":47.5},{"c":"L9","x":47.9,"y":47.9},{"c":"L9","x":48.3,"y":48.8},{"c":"L9","x":49.2,"y":49.2},{"c":"L9","x":49.6,"y":50.1},{"c":"L9","x":50.5,"y":50.5},{"c":"L9","x":50.9,"y":51.4},{"c":"L9","x":51.8,"y":51.8},{"c":"L9","x":52.2,"y":52.7},{"c":"L9","x":53.1,"y":53.1},{"c":"L9","x":53.9,"y":54.5},{"c":"L9","x":55.0,"y":56.5},{"c":"L9","x":55.8,"y":58.5},{"c":"L9","x":56.2,"y":60}
],
"dashR":[
{"c":"DU1a","x":6.7,"y":1},{"c":"DU1a","x":8.2,"y":2.4},
{"c":"DU1b","x":10.3,"y":4.4},{"c":"DU1b","x":12.4,"y":6.4},{"c":"DU1b","x":15.5,"y":9.8},{"c":"DU1b","x":18.5,"y":13.9},{"c":"DU1b","x":21.5,"y":17.8},{"c":"DU1b","x":23.8,"y":20.4},{"c":"DU1b","x":26.1,"y":22.7},{"c":"DU1b","x":26.8,"y":23.6},{"c":"DU1b","x":26.5,"y":24.1},{"c":"DU1b","x":25.3,"y":23.4},{"c":"DU1b","x":22,"y":20.1},{"c":"DU1b","x":18,"y":16.1},{"c":"DU1b","x":14,"y":12},{"c":"DU1b","x":10,"y":8},{"c":"DU1b","x":6,"y":4},{"c":"DU1b","x":3.1,"y":1},
{"c":"DU2a","x":5.9,"y":1},{"c":"DU2a","x":7.6,"y":2.7},{"c":"DU2a","x":9.4,"y":4.6},
{"c":"DU2b","x":12,"y":7.2},{"c":"DU2b","x":14.5,"y":10},{"c":"DU2b","x":17.2,"y":13.5},{"c":"DU2b","x":19.8,"y":16.6},{"c":"DU2b","x":22.3,"y":19.4},{"c":"DU2b","x":23.6,"y":20.9},{"c":"DU2b","x":23.3,"y":21.3},{"c":"DU2b","x":22.5,"y":20.2},{"c":"DU2b","x":18.4,"y":16.1},{"c":"DU2b","x":14.4,"y":12},{"c":"DU2b","x":10.4,"y":8},{"c":"DU2b","x":6.4,"y":4},{"c":"DU2b","x":3.4,"y":1},
{"c":"DU3","x":5.2,"y":1},{"c":"DU3","x":8.4,"y":4},{"c":"DU3","x":12.2,"y":8},{"c":"DU3","x":15.1,"y":11.5},{"c":"DU3","x":17.8,"y":14.7},{"c":"DU3","x":19.8,"y":17.1},{"c":"DU3","x":20.3,"y":17.9},{"c":"DU3","x":19.3,"y":16.6},{"c":"DU3","x":16,"y":13.2},{"c":"DU3","x":12,"y":9.2},{"c":"DU3","x":8,"y":5.2},{"c":"DU3","x":4.5,"y":1.7},{"c":"DU3","x":3.8,"y":1},
{"c":"DL1a","x":1,"y":6.7},{"c":"DL1a","x":3.3,"y":9.3},{"c":"DL1a","x":6.4,"y":12.4},{"c":"DL1a","x":9.8,"y":15.5},{"c":"DL1a","x":13.9,"y":18.5},{"c":"DL1a","x":17.8,"y":21.5},{"c":"DL1a","x":19.9,"y":23.4},
{"c":"DL1b","x":22,"y":25.4},{"c":"DL1b","x":22.7,"y":26.1},{"c":"DL1b","x":23.6,"y":26.8},{"c":"DL1b","x":24.1,"y":26.5},{"c":"DL1b","x":23.4,"y":25.3},{"c":"DL1b","x":20.1,"y":22},{"c":"DL1b","x":16.1,"y":18},{"c":"DL1b","x":12,"y":14},{"c":"DL1b","x":8,"y":10},{"c":"DL1b","x":4,"y":6},{"c":"DL1b","x":1,"y":3.1},
{"c":"DL2a","x":1,"y":5.9},{"c":"DL2a","x":2.7,"y":7.6},{"c":"DL2a","x":4.6,"y":9.4},{"c":"DL2a","x":7.2,"y":12},{"c":"DL2a","x":10,"y":14.5},{"c":"DL2a","x":13.1,"y":16.9},
{"c":"DL2b","x":15.5,"y":18.9},{"c":"DL2b","x":16.6,"y":19.8},{"c":"DL2b","x":19.4,"y":22.3},{"c":"DL2b","x":20.9,"y":23.6},{"c":"DL2b","x":21.3,"y":23.3},{"c":"DL2b","x":20.2,"y":22.5},{"c":"DL2b","x":16.1,"y":18.4},{"c":"DL2b","x":12,"y":14.4},{"c":"DL2b","x":8,"y":10.4},{"c":"DL2b","x":4,"y":6.4},{"c":"DL2b","x":1,"y":3.4},
{"c":"DL3","x":1,"y":5.2},{"c":"DL3","x":4,"y":8.4},{"c":"DL3","x":8,"y":12.2},{"c":"DL3","x":11.5,"y":15.1},{"c":"DL3","x":14.7,"y":17.8},{"c":"DL3","x":17.1,"y":19.8},{"c":"DL3","x":17.9,"y":20.3},{"c":"DL3","x":16.6,"y":19.3},{"c":"DL3","x":13.2,"y":16},{"c":"DL3","x":9.2,"y":12},{"c":"DL3","x":5.2,"y":8},{"c":"DL3","x":1.7,"y":4.5},{"c":"DL3","x":1,"y":3.8}
],
"circR":[{"x":54.4,"y":54.2},{"x":55.4,"y":55.2},{"x":56.3,"y":56.1},{"x":57.3,"y":57.2}],
"labR30":[{"t":"0.1","x":48.9,"y":43.3},{"t":"0.2","x":49.4,"y":45.0}],
"labR45":[{"t":"0.3","x":49.3,"y":46.3},{"t":"-0.1","x":9.25,"y":3.4},{"t":"-0.2","x":10.7,"y":5.9}],
"labR52":[{"t":"0.1","x":27.4,"y":30.3},{"t":"0.2","x":36.2,"y":39.6},{"t":"0.3","x":45.5,"y":48.7}],
"labR38":[{"t":"-0.2","x":14.3,"y":17.9},{"t":"-0.1","x":20.95,"y":24.4}]
},
"hconcat":[
{
 "width":517,"height":518,
 "title":{"text":"Average specific humidity cors"},
 "encoding":{
  "x":{"field":"x","type":"quantitative","scale":{"domain":[1,60],"nice":false,"zero":false},"axis":{"title":"Model level","values":[5,10,15,20,25,30,35,40,45,50,55,60],"labelExpr":"datum.value % 10 === 0 ? datum.label : ''","labelFlush":false,"labelOverlap":false}},
  "y":{"field":"y","type":"quantitative","scale":{"domain":[1,60],"nice":false,"zero":false,"reverse":true},"axis":{"title":"Model level","values":[5,10,15,20,25,30,35,40,45,50,55,60],"labelExpr":"datum.value % 10 === 0 ? datum.label : ''","labelFlush":false,"labelOverlap":false}}
 },
 "layer":[
  {"data":{"name":"lineL"},"mark":{"type":"line","color":"black","strokeWidth":1.1,"clip":true},"encoding":{"detail":{"field":"c"},"order":{"value":null}}},
  {"data":{"name":"dotL"},"mark":{"type":"point","shape":"circle","filled":true,"color":"black","size":3}},
  {"data":{"name":"circL"},"mark":{"type":"point","shape":"circle","filled":false,"color":"black","size":12,"strokeWidth":1}},
  {"data":{"name":"labL30"},"mark":{"type":"text","fontSize":12,"color":"black","angle":30},"encoding":{"text":{"field":"t"}}},
  {"data":{"name":"labL45"},"mark":{"type":"text","fontSize":12,"color":"black","angle":45},"encoding":{"text":{"field":"t"}}},
  {"data":{"name":"labL55"},"mark":{"type":"text","fontSize":12,"color":"black","angle":55},"encoding":{"text":{"field":"t"}}}
 ]
},
{
 "width":517,"height":518,
 "title":{"text":"Average normalized RH cors"},
 "encoding":{
  "x":{"field":"x","type":"quantitative","scale":{"domain":[1,60],"nice":false,"zero":false},"axis":{"title":"Model level","values":[5,10,15,20,25,30,35,40,45,50,55,60],"labelExpr":"datum.value % 10 === 0 ? datum.label : ''","labelFlush":false,"labelOverlap":false}},
  "y":{"field":"y","type":"quantitative","scale":{"domain":[1,60],"nice":false,"zero":false,"reverse":true},"axis":{"title":"Model level","values":[5,10,15,20,25,30,35,40,45,50,55,60],"labelExpr":"datum.value % 10 === 0 ? datum.label : ''","labelFlush":false,"labelOverlap":false}}
 },
 "layer":[
  {"data":{"name":"lineR"},"mark":{"type":"line","color":"black","strokeWidth":1.15,"clip":true},"encoding":{"detail":{"field":"c"},"order":{"value":null}}},
  {"data":{"name":"dashR"},"mark":{"type":"line","color":"black","strokeWidth":1.1,"strokeDash":[5,3],"clip":true},"encoding":{"detail":{"field":"c"},"order":{"value":null}}},
  {"data":{"name":"circR"},"mark":{"type":"point","shape":"circle","filled":false,"color":"black","size":12,"strokeWidth":1}},
  {"data":{"name":"labR30"},"mark":{"type":"text","fontSize":12,"color":"black","angle":30},"encoding":{"text":{"field":"t"}}},
  {"data":{"name":"labR45"},"mark":{"type":"text","fontSize":12,"color":"black","angle":45},"encoding":{"text":{"field":"t"}}},
  {"data":{"name":"labR52"},"mark":{"type":"text","fontSize":12,"color":"black","angle":52},"encoding":{"text":{"field":"t"}}},
  {"data":{"name":"labR38"},"mark":{"type":"text","fontSize":12,"color":"black","angle":38},"encoding":{"text":{"field":"t"}}}
 ]
}
]
}
